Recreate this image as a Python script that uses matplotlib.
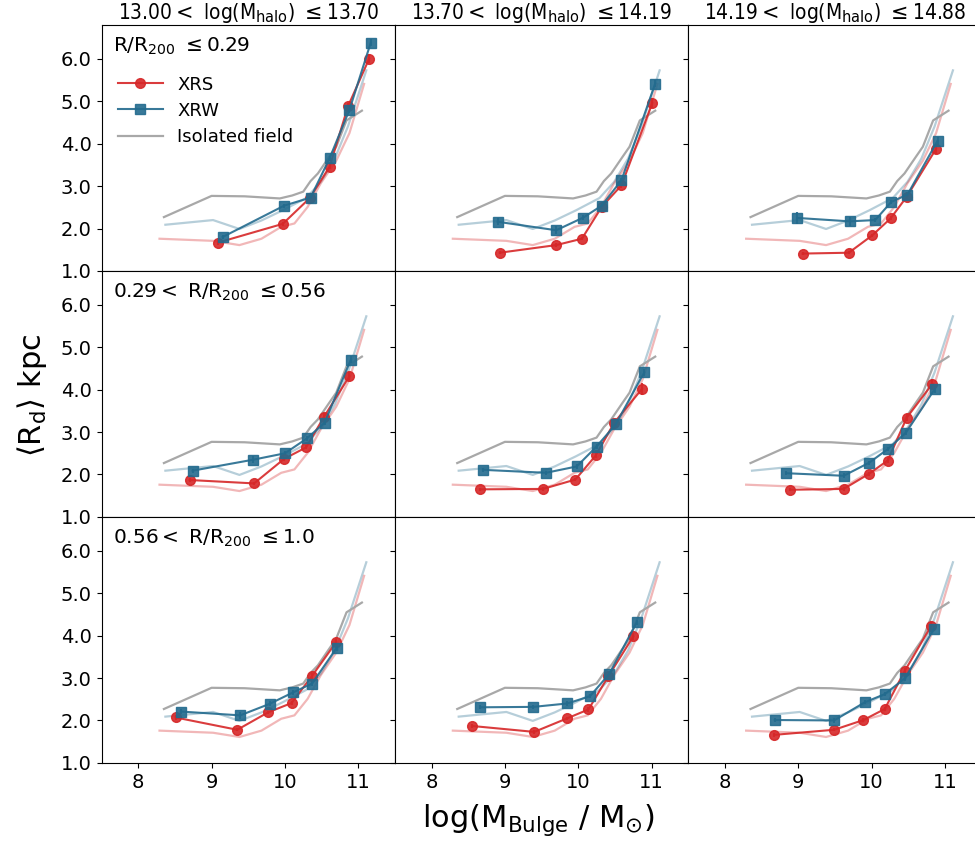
import matplotlib
matplotlib.use("Agg")
import matplotlib.pyplot as plt
from matplotlib.lines import Line2D

# ---------------- data ----------------
halo_labels = [r"13.00$<$ log(M$_{\rm halo}$) $\leq$13.70",
               r"13.70$<$ log(M$_{\rm halo}$) $\leq$14.19",
               r"14.19$<$ log(M$_{\rm halo}$) $\leq$14.88"]
radius_labels = [r"R/R$_{200}$ $\leq$0.29",
                 r"0.29$<$ R/R$_{200}$ $\leq$0.56",
                 r"0.56$<$ R/R$_{200}$ $\leq$1.0"]

# reference curves (same in every panel)
field_x = [8.35, 9.0, 9.45, 9.93, 10.1, 10.25, 10.35, 10.45, 10.6, 10.7, 10.84, 11.05]
field_y = [2.27, 2.77, 2.76, 2.71, 2.78, 2.87, 3.12, 3.30, 3.68, 3.93, 4.55, 4.78]
field_xrw_x = [8.37, 9.02, 9.38, 9.68, 9.97, 10.29, 10.49, 10.68, 10.86, 11.11]
field_xrw_y = [2.09, 2.20, 1.99, 2.19, 2.43, 2.72, 3.10, 3.65, 4.41, 5.73]
field_xrs_x = [8.29, 9.02, 9.38, 9.68, 9.95, 10.13, 10.31, 10.49, 10.70, 10.88, 11.08]
field_xrs_y = [1.76, 1.71, 1.61, 1.76, 2.04, 2.12, 2.51, 3.07, 3.60, 4.25, 5.41]

# XRS (red) per panel: rows = radius bins, cols = halo bins
xrs_x = [
    [[9.09, 9.97, 10.34, 10.61, 10.86, 11.15],
     [8.93, 9.70, 10.05, 10.32, 10.59, 11.01],
     [9.06, 9.69, 10.01, 10.26, 10.48, 10.88]],
    [[8.70, 9.58, 9.99, 10.29, 10.53, 10.88],
     [8.66, 9.52, 9.96, 10.24, 10.49, 10.87],
     [8.89, 9.62, 9.96, 10.22, 10.48, 10.83]],
    [[8.51, 9.35, 9.77, 10.09, 10.37, 10.70],
     [8.55, 9.40, 9.85, 10.14, 10.41, 10.75],
     [8.67, 9.49, 9.89, 10.18, 10.45, 10.81]],
]
xrs_y = [
    [[1.67, 2.11, 2.72, 3.46, 4.88, 6.01],
     [1.43, 1.61, 1.76, 2.51, 3.02, 4.96],
     [1.41, 1.43, 1.84, 2.24, 2.75, 3.88]],
    [[1.87, 1.79, 2.37, 2.64, 3.35, 4.32],
     [1.65, 1.66, 1.88, 2.45, 3.22, 4.02],
     [1.64, 1.66, 2.01, 2.33, 3.34, 4.14]],
    [[2.07, 1.78, 2.19, 2.41, 3.05, 3.85],
     [1.87, 1.73, 2.05, 2.26, 3.04, 3.98],
     [1.66, 1.78, 2.01, 2.27, 3.16, 4.22]],
]
xrs_err = [
    [[0.05, 0.04, 0.04, 0.06, 0.08, 0.10],
     [0.04, 0.04, 0.04, 0.05, 0.06, 0.12],
     [0.04, 0.04, 0.04, 0.05, 0.06, 0.12]],
    [[0.05, 0.04, 0.04, 0.05, 0.10, 0.10],
     [0.04, 0.04, 0.04, 0.05, 0.08, 0.14],
     [0.04, 0.04, 0.04, 0.05, 0.08, 0.12]],
    [[0.05, 0.04, 0.04, 0.05, 0.08, 0.08],
     [0.04, 0.04, 0.04, 0.05, 0.06, 0.08],
     [0.04, 0.04, 0.04, 0.05, 0.08, 0.10]],
]

# XRW (blue)
xrw_x = [
    [[9.15, 9.99, 10.35, 10.61, 10.88, 11.17],
     [8.90, 9.70, 10.07, 10.32, 10.59, 11.05],
     [8.99, 9.70, 10.05, 10.27, 10.49, 10.90]],
    [[8.74, 9.57, 10.00, 10.30, 10.54, 10.90],
     [8.70, 9.56, 9.98, 10.25, 10.51, 10.90],
     [8.84, 9.62, 9.97, 10.23, 10.47, 10.86]],
    [[8.58, 9.39, 9.79, 10.11, 10.37, 10.71],
     [8.66, 9.39, 9.85, 10.16, 10.42, 10.80],
     [8.68, 9.49, 9.91, 10.18, 10.46, 10.85]],
]
xrw_y = [
    [[1.80, 2.54, 2.73, 3.66, 4.80, 6.38],
     [2.16, 1.96, 2.26, 2.54, 3.14, 5.42],
     [2.25, 2.17, 2.20, 2.63, 2.80, 4.07]],
    [[2.09, 2.35, 2.50, 2.85, 3.22, 4.71],
     [2.11, 2.04, 2.19, 2.66, 3.18, 4.41],
     [2.03, 1.97, 2.28, 2.61, 2.99, 4.01]],
    [[2.21, 2.12, 2.39, 2.66, 2.87, 3.72],
     [2.31, 2.32, 2.40, 2.57, 3.09, 4.32],
     [2.01, 2.00, 2.43, 2.62, 3.00, 4.16]],
]
xrw_err = [
    [[0.05, 0.05, 0.04, 0.06, 0.08, 0.08],
     [0.08, 0.10, 0.05, 0.05, 0.06, 0.08],
     [0.15, 0.10, 0.05, 0.05, 0.06, 0.10]],
    [[0.05, 0.08, 0.05, 0.05, 0.06, 0.08],
     [0.05, 0.05, 0.05, 0.05, 0.06, 0.08],
     [0.05, 0.06, 0.05, 0.05, 0.06, 0.08]],
    [[0.06, 0.08, 0.06, 0.05, 0.06, 0.08],
     [0.05, 0.05, 0.05, 0.05, 0.06, 0.06],
     [0.05, 0.05, 0.05, 0.05, 0.06, 0.06]],
]

x_ticks = [8, 9, 10, 11]
y_ticks = [1.0, 2.0, 3.0, 4.0, 5.0, 6.0]

# ---------------- style ----------------
RED = "#d62728"
BLUE = "#236b8e"
GRAY = "#a8a8a8"

fig, axes = plt.subplots(3, 3, sharex=True, sharey=True,
                         figsize=(9.75, 8.42), dpi=100)
fig.subplots_adjust(left=0.1042, right=1.0067, bottom=0.094, top=0.9703,
                    wspace=0, hspace=0)

for r in range(3):
    for c in range(3):
        ax = axes[r, c]
        ax.plot(field_xrw_x, field_xrw_y, color=BLUE, alpha=0.33, lw=1.6, zorder=1)
        ax.plot(field_xrs_x, field_xrs_y, color=RED, alpha=0.33, lw=1.6, zorder=1)
        ax.plot(field_x, field_y, color=GRAY, lw=1.6, zorder=1)
        ax.errorbar(xrs_x[r][c], xrs_y[r][c], yerr=xrs_err[r][c], color=RED,
                    marker="o", ms=7, lw=1.5, elinewidth=1.5, capsize=0,
                    alpha=0.9, zorder=3)
        ax.errorbar(xrw_x[r][c], xrw_y[r][c], yerr=xrw_err[r][c], color=BLUE,
                    marker="s", ms=7, lw=1.5, elinewidth=1.5, capsize=0,
                    alpha=0.9, zorder=3)
        ax.set_xlim(7.5, 11.5)
        ax.set_ylim(1.0, 6.8)
        ax.set_xticks(x_ticks)
        ax.set_yticks(y_ticks)
        ax.set_yticklabels([f"{v:.1f}" for v in y_ticks])
        ax.tick_params(labelsize=14)
        if r < 2:
            ax.tick_params(axis="x", bottom=False)
        if c == 0:
            ax.text(0.04, 0.955, radius_labels[r], transform=ax.transAxes,
                    fontsize=14.5, va="top", ha="left")
        if r == 0:
            ax.set_title(halo_labels[c], fontsize=15, fontstretch="condensed",
                         pad=4)

handles = [Line2D([], [], color=RED, marker="o", ms=7, lw=1.5, alpha=0.9),
           Line2D([], [], color=BLUE, marker="s", ms=7, lw=1.5, alpha=0.9),
           Line2D([], [], color=GRAY, lw=1.6)]
labels = ["XRS", "XRW", "Isolated field"]
axes[0, 0].legend(handles, labels, loc="upper left",
                  bbox_to_anchor=(0.0, 0.86), frameon=False,
                  fontsize=13, handlelength=2.5, labelspacing=0.45)

fig.text(0.033, 0.53, r"$\langle\mathrm{R_d}\rangle$ kpc", rotation=90,
         fontsize=22, ha="center", va="center")
fig.text(0.552, 0.026, r"log(M$_{\rm Bulge}$ / M$_{\odot}$)", fontsize=22,
         ha="center", va="center")

fig.savefig("out.png", dpi=100)
